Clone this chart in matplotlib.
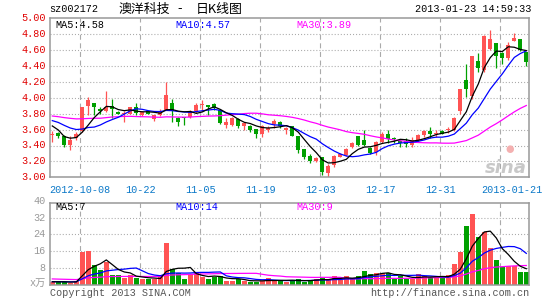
import numpy as np
import pandas as pd
import matplotlib
matplotlib.use("Agg")
import matplotlib.pyplot as plt

plt.rcParams['lines.scale_dashes'] = False

W, H = 545, 300

# ---------------- data ----------------
opens = [3.53, 3.56, 3.52, 3.41, 3.49, 3.58, 3.90, 3.93, 3.86, 3.83,
         3.90, 3.82, 3.79, 3.80, 3.88, 3.78, 3.83, 3.73, 3.78, 3.85,
         3.93, 3.75, 3.75, 3.76, 3.83, 3.91, 3.91, 3.92, 3.85, 3.66,
         3.66, 3.73, 3.65, 3.65, 3.61, 3.55, 3.60, 3.67, 3.70, 3.60,
         3.65, 3.52, 3.35, 3.27, 3.21, 3.25, 3.06, 3.16, 3.26, 3.28,
         3.38, 3.52, 3.47, 3.37, 3.32, 3.45, 3.55, 3.49, 3.46, 3.46,
         3.41, 3.47, 3.53, 3.58, 3.55, 3.58, 3.59, 3.60, 3.83, 4.22,
         4.02, 4.46, 4.35, 4.62, 4.69, 4.56, 4.50, 4.71, 4.74, 4.57]
closes = [3.55, 3.52, 3.41, 3.47, 3.55, 3.89, 3.97, 3.88, 3.83, 3.89,
          3.86, 3.80, 3.81, 3.88, 3.81, 3.82, 3.80, 3.78, 3.82, 4.03,
          3.83, 3.70, 3.74, 3.84, 3.91, 3.92, 3.89, 3.87, 3.68, 3.70,
          3.75, 3.65, 3.68, 3.60, 3.55, 3.65, 3.62, 3.71, 3.65, 3.62,
          3.52, 3.34, 3.25, 3.20, 3.24, 3.07, 3.14, 3.27, 3.29, 3.36,
          3.43, 3.41, 3.41, 3.31, 3.45, 3.55, 3.48, 3.48, 3.43, 3.42,
          3.47, 3.53, 3.58, 3.55, 3.56, 3.55, 3.60, 3.75, 4.11, 4.11,
          4.53, 4.37, 4.78, 4.74, 4.52, 4.50, 4.67, 4.75, 4.60, 4.45]
highs = [3.58, 3.57, 3.53, 3.52, 3.57, 3.89, 4.01, 3.94, 3.88, 4.09,
         3.98, 3.83, 3.83, 3.88, 3.93, 3.83, 3.83, 3.78, 3.86, 4.20,
         3.98, 3.76, 3.76, 3.85, 3.93, 3.97, 3.91, 3.93, 3.85, 3.74,
         3.76, 3.74, 3.69, 3.66, 3.61, 3.66, 3.65, 3.73, 3.71, 3.63,
         3.65, 3.52, 3.36, 3.29, 3.25, 3.26, 3.17, 3.28, 3.30, 3.37,
         3.44, 3.52, 3.60, 3.38, 3.46, 3.57, 3.60, 3.51, 3.48, 3.49,
         3.51, 3.55, 3.59, 3.63, 3.59, 3.60, 3.63, 3.76, 4.11, 4.42,
         4.53, 4.56, 4.79, 4.85, 4.69, 4.57, 4.70, 4.82, 4.74, 4.58]
lows = [3.44, 3.49, 3.38, 3.34, 3.47, 3.57, 3.78, 3.78, 3.80, 3.82,
        3.74, 3.79, 3.69, 3.79, 3.78, 3.77, 3.79, 3.71, 3.77, 3.85,
        3.70, 3.65, 3.66, 3.74, 3.81, 3.83, 3.78, 3.85, 3.67, 3.62,
        3.64, 3.62, 3.59, 3.57, 3.50, 3.51, 3.57, 3.62, 3.62, 3.55,
        3.52, 3.30, 3.23, 3.18, 3.19, 3.03, 3.00, 3.13, 3.25, 3.27,
        3.37, 3.40, 3.39, 3.29, 3.28, 3.43, 3.43, 3.43, 3.38, 3.38,
        3.38, 3.45, 3.51, 3.50, 3.51, 3.54, 3.56, 3.58, 3.79, 4.01,
        3.99, 4.33, 4.33, 4.60, 4.37, 4.43, 4.47, 4.71, 4.59, 4.40]
volumes = [1.5, 1.6, 1.6, 1.2, 1.9, 15.9, 16.2, 9.5, 7.1, 11.1,
           4.8, 4.8, 3.5, 4.8, 3.5, 2.9, 3.0, 2.7, 3.7, 20.2,
           7.9, 5.6, 2.9, 5.4, 5.6, 3.7, 2.9, 4.0, 4.4, 2.1,
           2.1, 2.7, 2.1, 1.7, 1.7, 2.1, 3.5, 2.1, 2.1, 1.7,
           2.4, 2.9, 1.7, 2.2, 2.9, 3.5, 2.9, 4.3, 2.4, 4.3,
           2.7, 4.3, 6.7, 5.2, 5.8, 6.0, 5.6, 2.9, 4.3, 2.9,
           2.9, 5.2, 4.3, 4.0, 3.7, 3.5, 4.8, 10.0, 15.9, 28.1,
           33.6, 23.0, 25.4, 17.8, 11.9, 8.4, 9.2, 9.2, 6.1, 6.1]
# sessions before the first visible one (needed by the moving averages)
pre_closes = [3.78, 3.76, 3.74, 3.76, 3.84, 3.86, 3.80, 3.82, 3.66, 3.62,
              3.70, 3.68, 3.86, 3.90, 3.88, 3.85, 3.89, 3.87, 3.86, 3.87,
              3.75, 3.78, 3.80, 3.74, 3.83, 3.775, 3.825, 3.57, 3.51]
pre_volumes = [4.2, 3.8, 3.5, 3.9, 4.5, 3.2, 3.6, 3.4, 3.8, 3.1,
               3.7, 3.3, 3.9, 3.5, 3.6, 3.2, 3.8, 3.4, 3.7, 3.0,
               1.8, 1.7, 1.9, 1.6, 1.8, 1.7, 1.6, 1.8, 1.5]

price_ticks = [5.00, 4.80, 4.60, 4.40, 4.20, 4.00, 3.80, 3.60, 3.40, 3.20, 3.00]
vol_ticks = [40, 32, 24, 16, 8]
grid_idx = [5, 15, 25, 35, 45, 55, 65, 75]
date_idx = [5, 15, 25, 35, 45, 55, 65, 77]
date_labels = ["2012-10-08", "10-22", "11-05", "11-19", "12-03", "12-17",
               "12-31", "2013-01-21"]

ma_price_text = [("MA5:4.58", "#000000", 55), ("MA10:4.57", "#0000FF", 175),
                 ("MA30:3.89", "#FF00FF", 296)]
ma_vol_text = [("MA5:7", "#000000", 55), ("MA10:14", "#0000FF", 175),
               ("MA30:9", "#FF00FF", 296)]

# ---------------- derived ----------------
n = len(closes)
x = np.arange(n)
allc = pd.Series(pre_closes + closes)
allv = pd.Series(pre_volumes + volumes)
k = len(pre_closes)
ma_p = {w: allc.rolling(w).mean().values[k:] for w in (5, 10, 30)}
ma_v = {w: allv.rolling(w).mean().values[k:] for w in (5, 10, 30)}

RED = "#FF5353"
GREEN = "#00A000"
GRID = "#AAAAAA"
FRAME = "#999999"
MONO = "Liberation Mono"
FS = 7.3

up = np.array(closes) >= np.array(opens)
colors = [RED if u else GREEN for u in up]

fig = plt.figure(figsize=(W / 100, H / 100), dpi=100)
fig.patch.set_facecolor("white")

x0 = (50 - 52.3) / 6
x1 = (529 - 52.3) / 6

ax = fig.add_axes([50 / W, 1 - 177.3 / H, 479 / W, 159 / H])
axv = fig.add_axes([50 / W, 1 - 285.2 / H, 479 / W, 82.2 / H])

for a in (ax, axv):
    a.set_xlim(x0, x1)
    a.set_xticks([])
    a.set_yticks([])
    for s in a.spines.values():
        s.set_color(FRAME)
        s.set_linewidth(1.1)
    gx = np.array(grid_idx) - 0.33
    a.vlines(gx, 0, 1, transform=a.get_xaxis_transform(), colors=GRID,
             linewidth=0.8, linestyles=(0, (3.6, 2.6)), zorder=1)

ax.set_ylim(3.0, 5.0)
axv.set_ylim(0, 38.9)

ax.hlines(price_ticks[1:-1], x0, x1, colors=GRID, linewidth=0.8,
          linestyles=(0, (0.75, 1.45)), zorder=1)
axv.hlines(vol_ticks[1:], x0, x1, colors=GRID, linewidth=0.8,
           linestyles=(0, (0.75, 1.45)), zorder=1)

# candles
o = np.array(opens); c = np.array(closes)
body_lo = np.minimum(o, c)
body_h = np.maximum(np.abs(c - o), 0.013)
ax.vlines(x, lows, highs, colors=colors, linewidth=0.9, zorder=2)
ax.bar(x, body_h, bottom=body_lo, width=0.72, color=colors, linewidth=0, zorder=3)

# price moving averages
ax.plot(x, ma_p[30], color="#FF00FF", lw=0.9, zorder=4)
ax.plot(x, ma_p[10], color="#0000FF", lw=0.9, zorder=5)
ax.plot(x, ma_p[5], color="#000000", lw=0.9, zorder=6)

# volume
axv.bar(x, volumes, width=0.82, color=colors, linewidth=0, zorder=2)
axv.plot(x, ma_v[30], color="#FF00FF", lw=0.9, zorder=4)
axv.plot(x, ma_v[10], color="#0000FF", lw=0.9, zorder=5)
axv.plot(x, ma_v[5], color="#000000", lw=0.9, zorder=6)

# watermark
ax.text(x1 - 0.3, 3.12, "sina", ha="right", va="center", fontsize=13,
        fontstyle="italic", fontweight="bold", color="#C8C8C8", zorder=1.5,
        family="DejaVu Sans")
ax.text(x1 - 3.2, 3.36, "●", ha="center", va="center", fontsize=7,
        color="#F4B0B0", zorder=1.5, family="DejaVu Sans")

# ---------------- texts ----------------
def fx(px):
    return px / W

def fy(py):
    return 1 - py / H

fig.text(fx(49), fy(9), "sz002172", ha="left", va="center", fontsize=FS,
         family=MONO, color="#000000")
cjk = ["Noto Sans CJK SC", "DejaVu Sans"]
fig.text(fx(119), fy(9), "澳洋科技", ha="left", va="center", fontsize=9.3,
         family=cjk, color="#000000")
fig.text(fx(180), fy(9), "-", ha="center", va="center", fontsize=9.3,
         family=cjk, color="#000000")
fig.text(fx(196), fy(9), "日K线图", ha="left", va="center", fontsize=9.3,
         family=cjk, color="#000000")
fig.text(fx(531), fy(9), "2013-01-23 14:59:33", ha="right", va="center",
         fontsize=FS, family=MONO, color="#000000")

for t, col, xp in ma_price_text:
    fig.text(fx(xp), fy(24.5), t, ha="left", va="center", fontsize=FS,
             family=MONO, color=col)
for t, col, xp in ma_vol_text:
    fig.text(fx(xp), fy(207.5), t, ha="left", va="center", fontsize=FS,
             family=MONO, color=col)

for p in price_ticks:
    ax.text(-0.0085, p, f"{p:.2f}", transform=ax.get_yaxis_transform(),
            ha="right", va="center", fontsize=FS, family=MONO,
            color="#E00000", clip_on=False)
for v in vol_ticks:
    axv.text(-0.0085, v, f"{v}", transform=axv.get_yaxis_transform(),
             ha="right", va="center", fontsize=FS, family=MONO,
             color="#999999", clip_on=False)
fig.text(fx(46), fy(283), "x万", ha="right", va="center", fontsize=FS,
         family=[MONO, "Noto Sans CJK SC"], color="#999999")

for i, lab in zip(date_idx, date_labels):
    ax.text(i - 0.33, -0.08, lab, transform=ax.get_xaxis_transform(),
            ha="center", va="center", fontsize=FS, family=MONO,
            color="#0A78C8", clip_on=False)

fig.text(fx(50), fy(292.5), "Copyright 2013 SINA.COM", ha="left", va="center",
         fontsize=FS, family=MONO, color="#555555")
fig.text(fx(529), fy(292.5), "http://finance.sina.com.cn", ha="right",
         va="center", fontsize=FS, family=MONO, color="#555555")

fig.savefig("out.png", dpi=100, facecolor="white")
